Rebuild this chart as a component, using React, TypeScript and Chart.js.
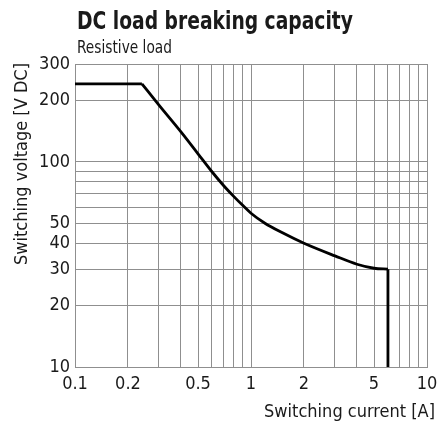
import React, { useEffect, useRef } from "react";
import { Chart, registerables } from "chart.js";

Chart.register(...registerables);

const TITLE = "DC load breaking capacity";
const SUBTITLE = "Resistive load";
const X_TITLE = "Switching current [A]";
const Y_TITLE = "Switching voltage [V DC]";

const currentA = [0.1, 0.24, 0.3, 0.4, 0.5, 0.6, 0.7, 0.8, 0.9, 1, 1.2, 1.5, 2, 3, 4, 5, 6, 6];
const voltageV = [240, 240, 189, 140, 109.5, 89.5, 76.5, 67.7, 61.2, 56.2, 50.2, 45.2, 40.1, 34.8, 31.7, 30.3, 30, 10];

const xGridValues = [0.1, 0.2, 0.3, 0.4, 0.5, 0.6, 0.7, 0.8, 0.9, 1, 2, 3, 4, 5, 6, 7, 8, 9, 10];
const xLabelValues = [0.1, 0.2, 0.5, 1, 2, 5, 10];
const yGridValues = [10, 20, 30, 40, 50, 60, 70, 80, 90, 100, 200, 300];
const yLabelValues = [10, 20, 30, 40, 50, 100, 200, 300];

const FONT = "'DejaVu Sans Condensed', 'Liberation Sans Narrow', sans-serif";
const GRID = "#8f8f8f";
const TEXT = "#1a1a1a";

function fitText(ctx: any, text: string, x: number, y: number, width: number) {
  const w = ctx.measureText(text).width;
  ctx.save();
  ctx.translate(x, y);
  ctx.scale(width / w, 1);
  ctx.fillText(text, 0, 0);
  ctx.restore();
}

const textPlugin = {
  id: "customText",
  afterDraw(chart: any) {
    const ctx = chart.ctx;
    const area = chart.chartArea;
    ctx.save();
    ctx.fillStyle = TEXT;
    ctx.textAlign = "left";
    ctx.textBaseline = "alphabetic";
    ctx.font = `bold 24px ${FONT}`;
    fitText(ctx, TITLE, area.left + 2, 29, 276);
    ctx.font = `17px ${FONT}`;
    fitText(ctx, SUBTITLE, area.left + 2, 53, 95);
    ctx.font = `18px ${FONT}`;
    ctx.textAlign = "right";
    ctx.fillText(X_TITLE, 435, 417);
    ctx.translate(27, area.top - 1);
    ctx.rotate(-Math.PI / 2);
    ctx.textAlign = "right";
    ctx.fillText(Y_TITLE, 0, 0);
    ctx.restore();
  },
};

const pts = (a: number, b: number) =>
  currentA.slice(a, b + 1).map((x, i) => ({ x, y: voltageV[a + i] }));

export default function App() {
  const ref = useRef<HTMLCanvasElement | null>(null);
  useEffect(() => {
    if (!ref.current) return;
    const last = currentA.length - 1;
    const line = { borderColor: "#000", borderWidth: 2.8, pointRadius: 0, fill: false };
    const chart = new Chart(ref.current, {
      type: "line",
      data: {
        datasets: [
          { ...line, data: pts(0, 1), tension: 0 },
          { ...line, data: pts(1, last - 1), cubicInterpolationMode: "monotone" },
          { ...line, data: pts(last - 1, last), tension: 0 },
        ],
      },
      options: {
        animation: false,
        responsive: false,
        devicePixelRatio: 1,
        layout: { padding: { top: 64, right: 10, left: 0, bottom: 0 } },
        plugins: { legend: { display: false }, tooltip: { enabled: false }, title: { display: false } },
        scales: {
          x: {
            type: "logarithmic",
            min: 0.1,
            max: 10,
            afterFit: (s: any) => { s.height = 59; s.paddingLeft = 0; s.paddingRight = 0; },
            afterBuildTicks: (s: any) => { s.ticks = xGridValues.map((v) => ({ value: v })); },
            grid: { color: GRID, lineWidth: 1, drawTicks: false },
            border: { color: GRID, width: 1 },
            ticks: {
              autoSkip: false,
              maxRotation: 0,
              padding: 7,
              color: TEXT,
              font: { family: FONT, size: 18 },
              callback: (v: any) => (xLabelValues.includes(Number(v)) ? String(v) : ""),
            },
          },
          y: {
            type: "logarithmic",
            min: 10,
            max: 300,
            afterFit: (s: any) => { s.width = 75; s.paddingTop = 0; s.paddingBottom = 0; },
            afterBuildTicks: (s: any) => { s.ticks = yGridValues.map((v) => ({ value: v })); },
            grid: { color: GRID, lineWidth: 1, drawTicks: false },
            border: { color: GRID, width: 1 },
            ticks: {
              autoSkip: false,
              padding: 5,
              color: TEXT,
              font: { family: FONT, size: 18 },
              callback: (v: any) => (yLabelValues.includes(Number(v)) ? String(v) : ""),
            },
          },
        },
      },
      plugins: [textPlugin],
    });
    return () => chart.destroy();
  }, []);
  return (
    <div style={{ position: "absolute", left: 0, top: 0, width: 437, height: 426, background: "#fff" }}>
      <canvas ref={ref} width={437} height={426} style={{ display: "block" }} />
    </div>
  );
}
